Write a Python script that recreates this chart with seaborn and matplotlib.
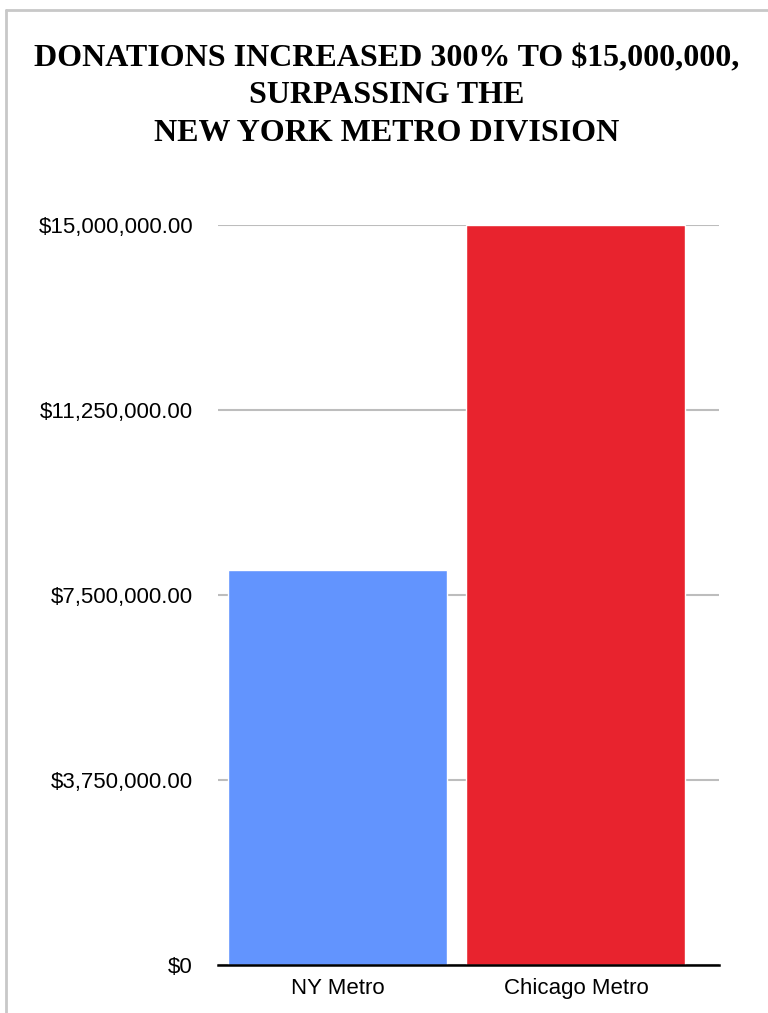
import pandas as pd
import seaborn as sns
import matplotlib
matplotlib.use("Agg")
from matplotlib import pyplot as plt
from matplotlib.lines import Line2D
from matplotlib.ticker import FuncFormatter

# data
divisions = ["NY Metro", "Chicago Metro"]
donations = [8000000, 15000000]
bar_colors = ["#6294fe", "#e8232e"]
y_ticks = [0, 3750000, 7500000, 11250000, 15000000]
title_text = "DONATIONS INCREASED 300% TO $15,000,000,\nSURPASSING THE\nNEW YORK METRO DIVISION"

df = pd.DataFrame({"division": divisions, "donations": donations})

sns.set_style("white")
plt.rcParams['font.family'] = ['Liberation Sans', 'DejaVu Sans']

fig = plt.figure(figsize=(7.68, 10.13), dpi=100)
ax = fig.add_axes([218/768, 48/1013, 501/768, 740/1013])

sns.barplot(data=df, x="division", y="donations", hue="division",
            palette=bar_colors, width=0.918, saturation=1, legend=False,
            ax=ax, zorder=3)

ax.set_xlim(-0.501, 1.6)
ax.set_ylim(0, 15000000)
ax.set_yticks(y_ticks)
ax.yaxis.set_major_formatter(FuncFormatter(lambda v, p: "$0" if v == 0 else "${:,.2f}".format(v)))
ax.grid(axis="y", color="#bdbdbd", linewidth=1.5, zorder=0)
ax.set_axisbelow(True)
for s in ["top", "right", "left"]:
    ax.spines[s].set_visible(False)
ax.spines["bottom"].set_color("black")
ax.spines["bottom"].set_linewidth(1.8)
ax.spines["bottom"].set_zorder(4)
ax.tick_params(axis="y", length=0, pad=18, labelsize=16, labelcolor="black")
ax.tick_params(axis="x", length=0, pad=9, labelsize=16, labelcolor="black")
ax.set_xlabel("")
ax.set_ylabel("")

fig.text(0.504, 1 - 44/1013, title_text, ha="center", va="top", color="black",
         fontsize=23, fontweight="bold", family=["Liberation Serif", "DejaVu Serif"],
         linespacing=1.38)

# frame lines at left and top
fig.add_artist(Line2D([6/768, 6/768], [0, 1 - 10/1013], color="#c8c8c8", linewidth=2))
fig.add_artist(Line2D([6/768, 1], [1 - 10/1013, 1 - 10/1013], color="#c8c8c8", linewidth=2))

fig.savefig("out.png", dpi=100)
